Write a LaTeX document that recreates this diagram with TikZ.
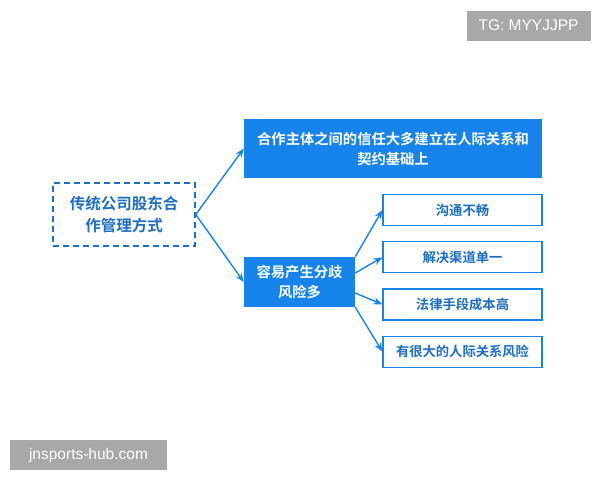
\documentclass[tikz,border=0pt]{standalone}
\usepackage{fontspec}
\setmainfont{Liberation Sans}
\newfontfamily\cjk{Noto Sans CJK SC}[BoldFont={Noto Sans CJK SC Bold}]
\usetikzlibrary{positioning,arrows.meta}
\definecolor{mainblue}{RGB}{22,132,235}
\definecolor{textblue}{RGB}{30,110,195}
\definecolor{markgray}{RGB}{168,168,168}

\begin{document}
\begin{tikzpicture}[x=1pt,y=-1pt]
        % Define styles for nodes and edges
        \tikzstyle{rootbox} = [rectangle, draw=textblue, dash pattern=on 6pt off 4pt, line width=1.5pt, text=textblue, font=\cjk\bfseries\fontsize{15.5}{22}\selectfont, align=center, minimum width=142pt, minimum height=63pt, inner sep=0pt]
        \tikzstyle{filled} = [rectangle, fill=mainblue, text=white, font=\cjk\bfseries\fontsize{14.3}{20}\selectfont, align=center, inner sep=0pt]
        \tikzstyle{item} = [rectangle, draw=mainblue, line width=1.2pt, fill=white, text=textblue, font=\cjk\bfseries\fontsize{13.3}{17}\selectfont, minimum width=159pt, minimum height=31pt, inner sep=0pt]
        \tikzstyle{tag} = [rectangle, fill=markgray, text=white, font=\fontsize{15.5}{18}\selectfont, inner sep=0pt]
        \tikzstyle{arrow} = [draw=mainblue, line width=1.4pt, -{Stealth[length=9pt,width=7pt]}]

        \useasboundingbox (0,0) rectangle (600,480);

        % Nodes
        \node[rootbox] (way) at (124,214.5) {传统公司股东合\\作管理方式};
        \node[filled, minimum width=298pt, minimum height=59pt] (trust) at (393,148.5) {合作主体之间的信任大多建立在人际关系和\\契约基础上};
        \node[filled, minimum width=111pt, minimum height=50pt] (risk) at (299.5,282) {容易产生分歧\\风险多};
        \node[item] (talk) at (462.5,210) {沟通不畅};
        \node[item, below=15pt of talk] (solve) {解决渠道单一};
        \node[item, below=15pt of solve] (law) {法律手段成本高};
        \node[item, below=15pt of law] (rel) {有很大的人际关系风险};

        % Arrows
        \draw[arrow] (way.east) -- (trust.west);
        \draw[arrow] (way.east) -- (risk.west);
        \draw[arrow] (risk.north east) -- (talk.west);
        \draw[arrow] ([yshift=9pt]risk.east) -- (solve.west);
        \draw[arrow] ([yshift=-11pt]risk.east) -- (law.west);
        \draw[arrow] (risk.south east) -- (rel.west);

        % Watermarks
        \node[tag, minimum width=124pt, minimum height=30pt] (tg) at (528.5,25.5) {TG: MYYJJPP};
        \node[tag, minimum width=157pt, minimum height=30pt] (site) at (88.5,455) {jnsports-hub.com};
\end{tikzpicture}
\end{document}
